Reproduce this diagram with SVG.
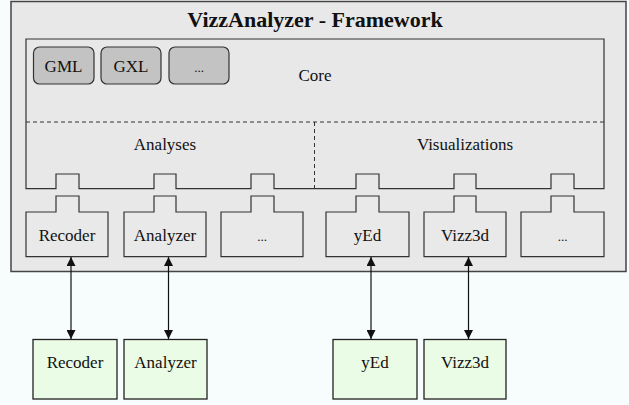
<svg xmlns="http://www.w3.org/2000/svg" width="629" height="405" viewBox="0 0 629 405" font-family="'Liberation Serif','Times New Roman',serif">
<defs>
<style>
text{font-family:"Liberation Serif","Times New Roman",serif;fill:#111;text-anchor:middle}
.lbl{font-family:"Liberation Serif","Times New Roman",serif;font-size:17px}
.ln{fill:none;stroke:#333;stroke-width:1.2}
.comp{fill:#e9e9e9;stroke:#333;stroke-width:1.2}
.fmt{fill:#c3c3c3;stroke:#333;stroke-width:1.2}
.ext{fill:#ebfce6;stroke:#222;stroke-width:1.3}
.dash{fill:none;stroke:#333;stroke-width:1;stroke-dasharray:4,3}
.con{stroke:#111;stroke-width:1.2;fill:none;marker-start:url(#ah);marker-end:url(#ah)}
</style>
<marker id="ah" viewBox="0 0 10 10" refX="10" refY="5" markerWidth="9" markerHeight="9" markerUnits="userSpaceOnUse" orient="auto-start-reverse">
<path d="M0,0 L10,5 L0,10 Z" fill="#111"/>
</marker>
</defs>
<rect x="0" y="0" width="629" height="405" fill="#f7fcfc"/>
<g id="framework">
<rect x="11" y="1.5" width="615" height="270" fill="#e8e8e8" stroke="#444" stroke-width="1.5"/>
<text x="315" y="27" style="font-size:22px;font-weight:bold">VizzAnalyzer - Framework</text>
</g>
<g id="core">
<path class="ln" d="M26,39 H604 V188.7 H574 V174 H551 V188.7 H476 V174 H454 V188.7 H379 V174 H356 V188.7 H274 V174 H251 V188.7 H176 V174 H154 V188.7 H79 V174 H56 V188.7 H26 Z"/>
<line class="dash" x1="26" y1="122" x2="604" y2="122"/>
<line class="dash" x1="314.5" y1="122" x2="314.5" y2="188"/>
<text class="lbl" x="315" y="81">Core</text>
<text class="lbl" x="165" y="150">Analyses</text>
<text class="lbl" x="465" y="150">Visualizations</text>
</g>
<g id="gml"><rect class="fmt" x="33.5" y="47" width="60.5" height="37" rx="6"/><text class="lbl" x="63.5" y="72">GML</text></g>
<g id="gxl"><rect class="fmt" x="101" y="47" width="60" height="37" rx="6"/><text class="lbl" x="131" y="72">GXL</text></g>
<g id="fmt-more"><rect class="fmt" x="169" y="47" width="60" height="37" rx="6"/><text class="lbl" x="199" y="72" style="font-size:13px">...</text></g>
<g id="recoder-plugin"><path class="comp" d="M26,212 H56 V196 H79 V212 H108 V256.7 H26 Z"/><text class="lbl" x="67" y="241">Recoder</text></g>
<g id="analyzer-plugin"><path class="comp" d="M124,212 H154 V196 H176 V212 H206 V256.7 H124 Z"/><text class="lbl" x="165" y="241">Analyzer</text></g>
<g id="analyses-more"><path class="comp" d="M221,212 H251 V196 H274 V212 H303 V256.7 H221 Z"/><text class="lbl" x="262" y="241" style="font-size:13px">...</text></g>
<g id="yed-plugin"><path class="comp" d="M326,212 H356 V196 H379 V212 H409 V256.7 H326 Z"/><text class="lbl" x="367.5" y="241">yEd</text></g>
<g id="vizz3d-plugin"><path class="comp" d="M424,212 H454 V196 H476 V212 H506 V256.7 H424 Z"/><text class="lbl" x="465" y="241">Vizz3d</text></g>
<g id="vis-more"><path class="comp" d="M521,212 H551 V196 H574 V212 H604 V256.7 H521 Z"/><text class="lbl" x="562.5" y="241" style="font-size:13px">...</text></g>
<g id="recoder"><rect class="ext" x="33" y="339.5" width="84" height="59.5"/><text class="lbl" x="75" y="368">Recoder</text></g>
<g id="analyzer"><rect class="ext" x="124" y="339.5" width="83" height="59.5"/><text class="lbl" x="165.5" y="368">Analyzer</text></g>
<g id="yed"><rect class="ext" x="333" y="339.5" width="84" height="59.5"/><text class="lbl" x="375" y="368">yEd</text></g>
<g id="vizz3d"><rect class="ext" x="424" y="339.5" width="82" height="59.5"/><text class="lbl" x="465" y="368">Vizz3d</text></g>
<g id="connectors">
<line class="con" x1="71" y1="257" x2="71" y2="339"/>
<line class="con" x1="168.5" y1="257" x2="168.5" y2="339"/>
<line class="con" x1="371" y1="257" x2="371" y2="339"/>
<line class="con" x1="468.5" y1="257" x2="468.5" y2="339"/>
</g>
</svg>
